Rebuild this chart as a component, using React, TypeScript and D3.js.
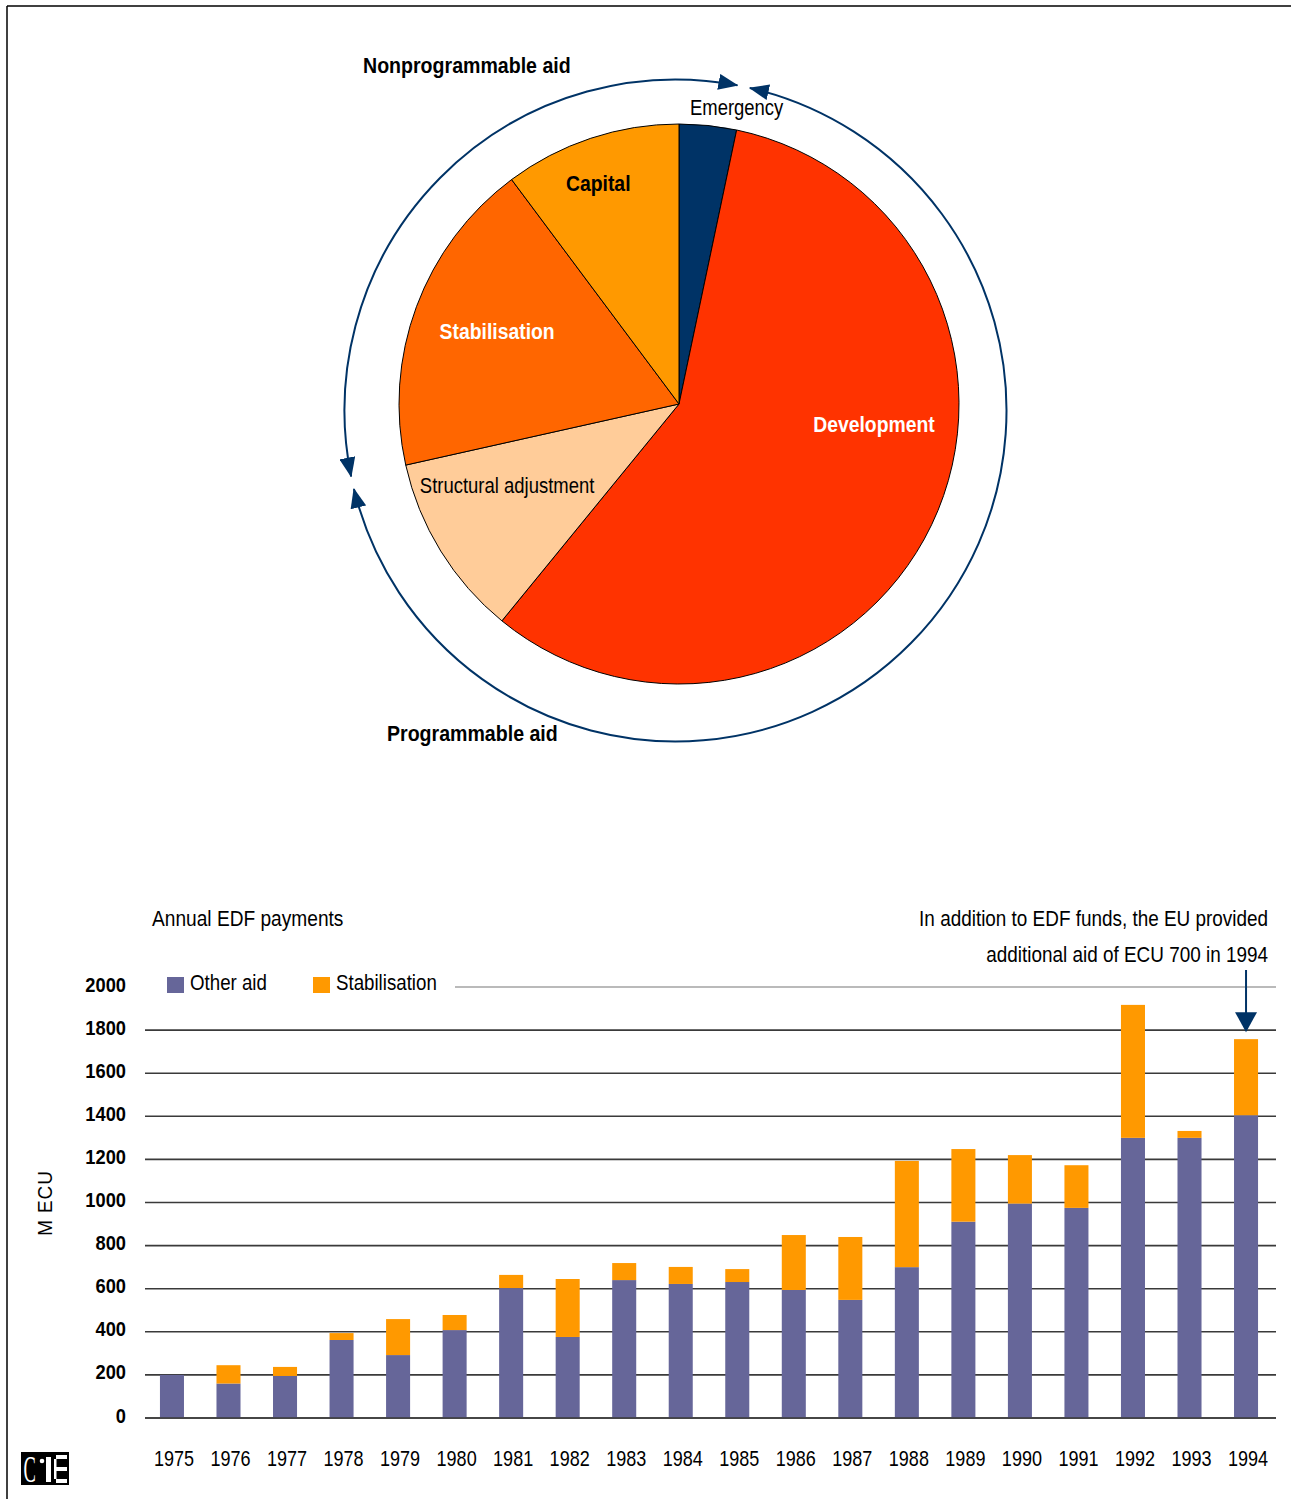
import React from "react";
import * as d3 from "d3";

// ---------- DATA ----------
const pieLabels = ["Emergency", "Development", "Structural adjustment", "Stabilisation", "Capital"];
const pieValues = [3.3, 57.6, 10.6, 18.3, 10.2];
const pieColors = ["#003366", "#FF3300", "#FFCC99", "#FF6600", "#FF9900"];

const years = [
  "1975", "1976", "1977", "1978", "1979", "1980", "1981", "1982", "1983", "1984",
  "1985", "1986", "1987", "1988", "1989", "1990", "1991", "1992", "1993", "1994",
];
const otherAid = [200, 160, 195, 362, 292, 408, 603, 376, 640, 622, 631, 594, 548, 700, 911, 995, 975, 1300, 1300, 1405];
const stabilisation = [0, 85, 42, 32, 167, 70, 61, 269, 79, 79, 60, 255, 292, 493, 337, 225, 198, 617, 32, 353];
const yTicks = [0, 200, 400, 600, 800, 1000, 1200, 1400, 1600, 1800, 2000];
const seriesNames = ["Other aid", "Stabilisation"];
const seriesColors = ["#666699", "#FF9900"];

// ---------- LAYOUT ----------
const W = 1291;
const H = 1499;
const FONT = "'Liberation Sans', Arial, sans-serif";
const NAVY = "#003366";

const pieCx = 679;
const pieCy = 404;
const pieR = 280;
const ringCx = 675.5;
const ringCy = 410.5;
const ringR = 331;

// label placement: [angle in degrees (clockwise from 12 o'clock), radius, colour, weight]
const labelLayout: [number, number, string, string][] = [
  [11, 302, "#000", "normal"],
  [96, 196, "#fff", "bold"],
  [244.8, 190, "#000", "normal"],
  [291.9, 196, "#fff", "bold"],
  [339.9, 235, "#000", "bold"],
];

const deg = Math.PI / 180;

function ringArc(a0: number, a1: number) {
  const p = d3.path();
  const s0 = (a0 - 90) * deg;
  const s1 = (a1 - 90) * deg;
  p.moveTo(ringCx + ringR * Math.cos(s0), ringCy + ringR * Math.sin(s0));
  p.arc(ringCx, ringCy, ringR, s0, s1, false);
  return p.toString();
}

// condensed text (narrow face emulated by horizontal scaling)
function NText(props: {
  x: number;
  y: number;
  sx?: number;
  size?: number;
  weight?: string;
  fill?: string;
  anchor?: string;
  dy?: string;
  children: React.ReactNode;
}) {
  const { x, y, sx = 0.85, size = 22, weight = "normal", fill = "#000", anchor = "start", dy, children } = props;
  return (
    <text
      transform={`translate(${x},${y}) scale(${sx},1)`}
      fontSize={size}
      fontWeight={weight}
      fill={fill}
      textAnchor={anchor}
      dy={dy}
    >
      {children}
    </text>
  );
}

export default function App() {
  const pieGen = d3
    .pie<number>()
    .sort(null)
    .startAngle(0)
    .endAngle(2 * Math.PI)
    .value((d) => d);
  const arcs = pieGen(pieValues);
  const arcGen = d3.arc<d3.PieArcDatum<number>>().innerRadius(0).outerRadius(pieR);

  const bEmergDev = arcs[0].endAngle / deg;
  const bStructStab = arcs[2].endAngle / deg;
  const gap = 1.1;

  const x = d3
    .scaleBand<string>()
    .domain(years)
    .range([143.7, 1274.3])
    .paddingInner(0.575)
    .paddingOuter(0.2875);
  const y = d3.scaleLinear().domain([0, 2000]).range([1418, 987]);
  const stackData = years.map((yr, i) => ({ year: yr, other: otherAid[i], stab: stabilisation[i] }));
  const stack = d3.stack<any>().keys(["other", "stab"])(stackData);

  const gridX0 = 145;
  const gridX1 = 1276;
  const lastIdx = years.length - 1;
  const arrowX = (x(years[lastIdx]) as number) + x.bandwidth() / 2;
  const arrowTip = y(otherAid[lastIdx] + stabilisation[lastIdx]) - 7;

  return (
    <div style={{ position: "absolute", left: 0, top: 0 }}>
      <svg width={W} height={H} style={{ display: "block", fontFamily: FONT }}>
        <defs>
          <marker
            id="arrowHead"
            viewBox="0 0 20 16"
            refX={19}
            refY={8}
            markerWidth={20}
            markerHeight={16}
            markerUnits="userSpaceOnUse"
            orient="auto-start-reverse"
          >
            <path d="M0,0 L20,8 L0,16 Z" fill={NAVY} />
          </marker>
        </defs>
        <rect x={0} y={0} width={W} height={H} fill="#fff" />
        {/* frame */}
        <line x1={7} y1={6} x2={W} y2={6} stroke="#000" strokeWidth={1.5} />
        <line x1={7} y1={6} x2={7} y2={H} stroke="#000" strokeWidth={1.5} />

        {/* ---------- PIE ---------- */}
        <g transform={`translate(${pieCx},${pieCy})`}>
          {arcs.map((a, i) => (
            <path key={i} d={arcGen(a) as string} fill={pieColors[i]} stroke="#000" strokeWidth={1} />
          ))}
          {arcs.map((a, i) => {
            const [ang, r, col, wt] = labelLayout[i];
            const s = (ang - 90) * deg;
            return (
              <NText
                key={"l" + i}
                x={r * Math.cos(s)}
                y={r * Math.sin(s)}
                dy="0.35em"
                anchor="middle"
                sx={wt === "bold" ? 0.88 : 0.84}
                weight={wt}
                fill={col}
              >
                {pieLabels[i]}
              </NText>
            );
          })}
        </g>

        {/* ring arcs */}
        <path
          d={ringArc(bStructStab + gap, 360 + bEmergDev - gap)}
          fill="none"
          stroke={NAVY}
          strokeWidth={2}
          markerStart="url(#arrowHead)"
          markerEnd="url(#arrowHead)"
        />
        <path
          d={ringArc(bEmergDev + gap, bStructStab - gap)}
          fill="none"
          stroke={NAVY}
          strokeWidth={2}
          markerStart="url(#arrowHead)"
          markerEnd="url(#arrowHead)"
        />
        <NText x={363} y={73} weight="bold" sx={0.89}>
          Nonprogrammable aid
        </NText>
        <NText x={387} y={741} weight="bold" sx={0.89}>
          Programmable aid
        </NText>

        {/* ---------- BARS ---------- */}
        <NText x={152} y={926} sx={0.87}>
          Annual EDF payments
        </NText>
        <NText x={1268} y={926} sx={0.86} anchor="end">
          In addition to EDF funds, the EU provided
        </NText>
        <NText x={1268} y={962} sx={0.86} anchor="end">
          additional aid of ECU 700 in 1994
        </NText>

        {yTicks.map((t) => (
          <g key={t}>
            <line
              x1={gridX0}
              x2={gridX1}
              y1={y(t)}
              y2={y(t)}
              stroke={t === 2000 ? "#777" : "#3a3a3a"}
              strokeWidth={t === 2000 ? 1.2 : 1.6}
            />
            <NText x={126} y={y(t) - 3} dy="0.36em" anchor="end" size={21} weight="bold" sx={0.87}>
              {t}
            </NText>
          </g>
        ))}

        {/* legend (white box covers top gridline) */}
        <rect x={gridX0} y={968} width={310} height={32} fill="#fff" />
        {seriesNames.map((n, i) => {
          const lx = i === 0 ? 167 : 313;
          return (
            <g key={n}>
              <rect x={lx} y={977} width={17} height={16} fill={seriesColors[i]} />
              <NText x={lx + 23} y={990} sx={0.85}>
                {n}
              </NText>
            </g>
          );
        })}

        {stack.map((s, si) => (
          <g key={si} fill={seriesColors[si]}>
            {s.map((d, i) => (
              <rect
                key={i}
                x={x(years[i])}
                width={x.bandwidth()}
                y={y(d[1])}
                height={Math.max(0, y(d[0]) - y(d[1]))}
              />
            ))}
          </g>
        ))}
        <line x1={gridX0} x2={gridX1} y1={y(0)} y2={y(0)} stroke="#3a3a3a" strokeWidth={1.6} />

        {years.map((yr) => (
          <NText key={yr} x={(x(yr) as number) + x.bandwidth() / 2 + 2} y={1466} anchor="middle" sx={0.82}>
            {yr}
          </NText>
        ))}

        <text
          transform={`translate(52,1203) rotate(-90) scale(0.9,1)`}
          textAnchor="middle"
          fontSize={21}
          fill="#000"
          letterSpacing={1}
        >
          M ECU
        </text>

        {/* annotation arrow */}
        <line x1={arrowX} x2={arrowX} y1={970} y2={arrowTip - 15} stroke={NAVY} strokeWidth={2} />
        <path
          d={`M${arrowX - 11},${arrowTip - 20} L${arrowX + 11},${arrowTip - 20} L${arrowX},${arrowTip} Z`}
          fill={NAVY}
        />

        {/* CIE logo */}
        <g>
          <rect x={21} y={1452} width={48} height={33} fill="#000" />
          <text
            transform="translate(23.5,1482) scale(0.5,1)"
            fontFamily="'Liberation Serif', 'DejaVu Serif', serif"
            fontSize={37}
            fill="#fff"
          >
            C
          </text>
          <circle cx={42} cy={1461} r={2.3} fill="#fff" />
          <rect x={46} y={1457} width={5} height={25} fill="#fff" />
          <rect x={56} y={1455} width={11} height={4} fill="#fff" />
          <rect x={56} y={1467} width={11} height={4} fill="#fff" />
          <rect x={56} y={1479} width={11} height={4} fill="#fff" />
          <rect x={54} y={1459} width={2.5} height={20} fill="#fff" />
        </g>
      </svg>
    </div>
  );
}
